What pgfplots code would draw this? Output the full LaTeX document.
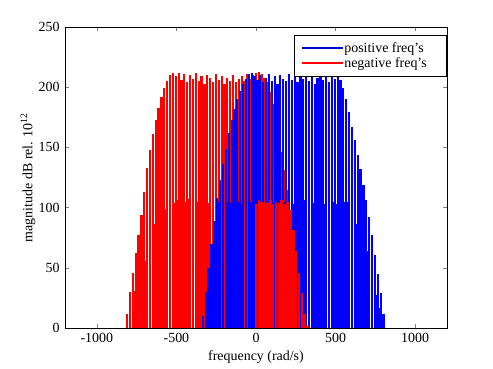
\documentclass[border=0pt]{standalone}
\usepackage{fontspec}
\setmainfont{Liberation Serif}
\usepackage{pgfplots}
\usepackage{pgfplotstable}
\pgfplotsset{compat=1.18}

% negative-frequency spectrum: x, full comb height, dense (lower) comb height
\pgfplotstableread{
x env wide
-810 12 6
-792 30 15
-774 46 23
-756 62 31
-738 77 38
-720 94 47
-702 113 56
-684 133 66
-666 148 74
-648 161 80
-630 173 86
-612 183 91
-594 192 96
-576 199 99
-558 205 102
-540 210 105
-522 212 106
-504 209 104
-486 212 106
-468 206 103
-450 211 105
-432 204 107
-414 210 104
-396 207 102
-378 212 106
-360 205 105
-342 209 103
-324 203 106
-306 210 104
-288 208 105
-270 204 107
-252 211 103
-234 206 105
-216 209 104
-198 203 106
-180 208 102
-162 205 105
-144 210 107
-126 204 104
-108 207 106
-90 209 103
-72 205 105
-54 211 104
-36 207 106
-18 210 105
0 212 103
18 213 106
36 211 105
54 208 105
72 204 104
90 196 106
108 186 103
126 174 105
144 160 104
162 146 106
180 131 103
198 115 105
216 98 98
234 81 81
252 64 64
270 46 46
288 29 29
306 12 12
324 2 2
}\negtab

% positive-frequency spectrum
\pgfplotstableread{
x env wide
-333 10 10
-315 30 30
-297 50 50
-279 70 70
-261 89 89
-243 108 105
-225 123 104
-207 136 106
-189 149 103
-171 162 105
-153 173 104
-135 182 106
-117 190 105
-99 197 103
-81 203 106
-63 207 104
-45 211 105
-27 212 105
-9 209 103
9 206 106
27 210 104
45 204 105
63 208 107
81 211 103
99 205 105
117 209 104
135 203 106
153 210 102
171 207 105
189 205 107
207 211 104
225 206 106
243 209 103
261 204 105
279 210 104
297 207 106
315 212 105
333 205 103
351 209 106
369 203 104
387 208 105
405 211 107
423 206 103
441 210 105
459 204 104
477 209 106
495 207 105
513 211 103
531 206 105
549 199 105
567 190 105
585 179 105
603 167 100
621 156 94
639 144 86
657 132 79
675 119 71
693 106 64
711 92 55
729 77 46
747 61 37
765 45 27
783 29 17
801 12 7
}\postab

\begin{document}
\begin{tikzpicture}
\useasboundingbox (-65bp,-41bp) rectangle (428bp,328bp);
\begin{axis}[
  at={(0,0)}, anchor=south west,
  scale only axis, width=382bp, height=301bp,
  xmin=-1200, xmax=1200, ymin=0, ymax=250,
  xtick={-1000,-500,0,500,1000},
  ytick={0,50,100,150,200,250},
  tick align=inside, tick pos=both, major tick length=4bp,
  /pgf/number format/assume math mode=true,
  /pgf/number format/1000 sep={},
  every tick label/.append style={font=\fontsize{14}{16}\selectfont},
  xticklabel style={yshift=-1.5bp},
  yticklabel style={xshift=-2bp},
  label style={font=\fontsize{14}{16}\selectfont},
  xlabel={frequency (rad/s)},
  ylabel={magnitude dB rel. 10\textsuperscript{12}},
  xlabel style={at={(axis description cs:0.5,-0.0967)}, anchor=center},
  ylabel style={at={(axis description cs:-0.0969,0.5)}, anchor=center, rotate=0},
  legend cell align=left,
  legend style={at={(1,1)}, anchor=north east, xshift=-1bp, yshift=-8bp,
    fill=white, font=\fontsize{14}{16}\selectfont,
    inner xsep=7bp, inner ysep=5bp, row sep=0bp,
    nodes={inner sep=2bp}},
  legend image code/.code={\fill[#1] (0bp,-0.45bp) rectangle (40bp,0.45bp);},
]
% negative freq's (red), lower dense part only left of -10 here
\addplot[ycomb, draw=red, line width=2.2bp, forget plot] table[x=x, y=env]{\negtab};
\addplot[ycomb, draw=red, line width=2.6bp, forget plot, restrict x to domain=-1000:-10] table[x=x, y=wide]{\negtab};
% positive freq's (blue)
\addplot[ycomb, draw=blue, line width=2.2bp, forget plot] table[x=x, y=env]{\postab};
\addplot[ycomb, draw=blue, line width=2.6bp, forget plot] table[x=x, y=wide]{\postab};
% red dense part right of -10 drawn on top
\addplot[ycomb, draw=red, line width=2.6bp, forget plot, restrict x to domain=-10:1000] table[x=x, y=wide]{\negtab};
% zero-level parts of the two spectra (also the legend samples)
\addplot[color=blue!80!black, fill=blue!80!black, line width=0.8bp] coordinates {(-1200,0) (-342,0)};
\addplot[color=red, fill=red, line width=0.8bp] coordinates {(310,0) (1200,0)};
\legend{positive freq's\hspace*{10bp}\mbox{}, negative freq's\hspace*{10bp}\mbox{}}
\end{axis}
\end{tikzpicture}
\end{document}
